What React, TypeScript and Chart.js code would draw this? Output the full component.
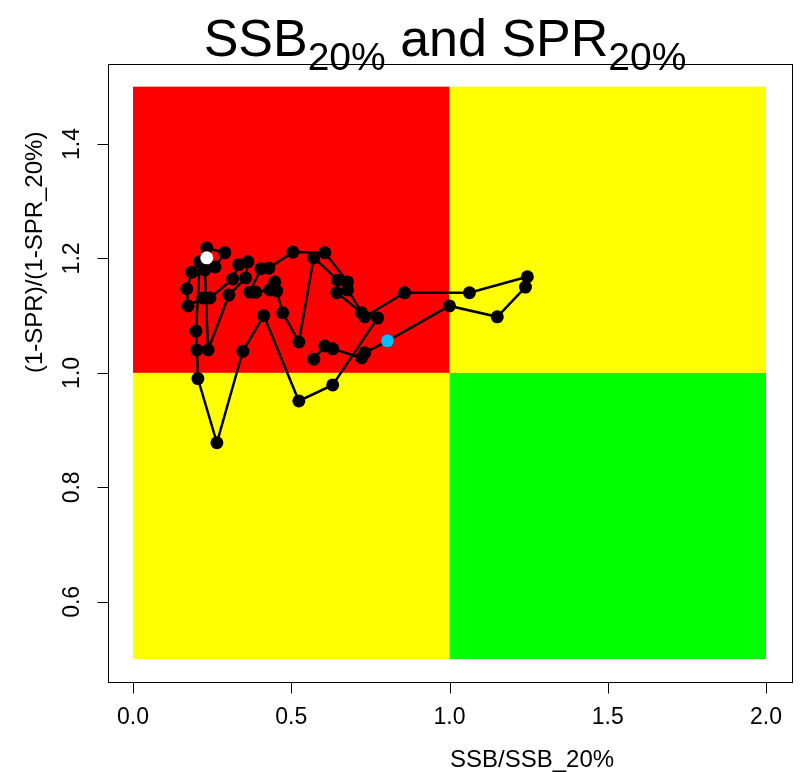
import React, { useEffect, useRef } from "react";
import { Chart, registerables } from "chart.js";

Chart.register(...registerables);

// ---- data ----
const xTicks = [0, 0.5, 1, 1.5, 2];
const xTickLabels = ["0.0", "0.5", "1.0", "1.5", "2.0"];
const yTicks = [0.6, 0.8, 1.0, 1.2, 1.4];
const yTickLabels = ["0.6", "0.8", "1.0", "1.2", "1.4"];

// trajectory: SSB/SSB_20% and (1-SPR)/(1-SPR_20%)
const ssbRatio = [
  0.233, 0.233, 0.29, 0.259, 0.186, 0.17, 0.174, 0.221, 0.243, 0.315, 0.334, 0.363, 0.356, 0.303,
  0.237, 0.227, 0.211, 0.199, 0.202, 0.205, 0.265, 0.347, 0.413, 0.524, 0.631, 0.773, 0.722, 0.644,
  0.647, 0.571, 0.524, 0.473, 0.454, 0.448, 0.432, 0.388, 0.369, 0.404, 0.429, 0.505, 0.606, 0.678,
  0.678, 0.732, 0.858, 1.063, 1.246, 1.24, 1.151, 1.0, 0.804, 0.732, 0.722, 0.631, 0.606, 0.571,
];
const sprRatio = [
  1.201, 1.218, 1.21, 1.185, 1.176, 1.147, 1.117, 1.131, 1.131, 1.164, 1.189, 1.194, 1.166, 1.136,
  1.04, 1.18, 1.194, 1.073, 1.04, 0.99, 0.878, 1.038, 1.1, 0.951, 0.979, 1.096, 1.105, 1.14,
  1.162, 1.201, 1.054, 1.105, 1.143, 1.159, 1.145, 1.141, 1.141, 1.182, 1.183, 1.211, 1.21, 1.159,
  1.145, 1.098, 1.14, 1.14, 1.168, 1.15, 1.098, 1.117, 1.056, 1.035, 1.026, 1.042, 1.047, 1.024,
];
const startIndex = 0; // white point
const markIndex = 50; // light-blue point

// status zones (x range, y range)
const zoneX0 = [0, 1, 0, 1];
const zoneX1 = [1, 2, 1, 2];
const zoneY0 = [1, 1, 0.5, 0.5];
const zoneY1 = [1.5, 1.5, 1, 1];
const zoneColors = ["#FF0000", "#FFFF00", "#FFFF00", "#00FF00"];

const FONT = '"Liberation Sans", Arial, Helvetica, sans-serif';

const decorPlugin = {
  id: "decor",
  beforeDatasetsDraw(chart: any) {
    const { ctx, scales } = chart;
    const x = scales.x;
    const y = scales.y;
    ctx.save();
    for (let i = 0; i < zoneColors.length; i++) {
      const px0 = x.getPixelForValue(zoneX0[i]);
      const px1 = x.getPixelForValue(zoneX1[i]);
      const py0 = y.getPixelForValue(zoneY1[i]);
      const py1 = y.getPixelForValue(zoneY0[i]);
      ctx.fillStyle = zoneColors[i];
      ctx.fillRect(px0, py0, px1 - px0, py1 - py0);
    }
    ctx.restore();
  },
  afterDraw(chart: any) {
    const { ctx, chartArea, scales } = chart;
    const x = scales.x;
    const y = scales.y;
    ctx.save();
    // box
    ctx.strokeStyle = "#000";
    ctx.lineWidth = 1;
    ctx.strokeRect(
      Math.round(chartArea.left) + 0.5,
      Math.round(chartArea.top) + 0.5,
      Math.round(chartArea.right - chartArea.left),
      Math.round(chartArea.bottom - chartArea.top)
    );
    // x ticks
    const bottom = Math.round(chartArea.bottom) + 0.5;
    ctx.beginPath();
    xTicks.forEach((v) => {
      const px = Math.round(x.getPixelForValue(v)) + 0.5;
      ctx.moveTo(px, bottom);
      ctx.lineTo(px, bottom + 11);
    });
    const left = Math.round(chartArea.left) + 0.5;
    yTicks.forEach((v) => {
      const py = Math.round(y.getPixelForValue(v)) + 0.5;
      ctx.moveTo(left, py);
      ctx.lineTo(left - 11, py);
    });
    ctx.stroke();

    ctx.fillStyle = "#000";
    ctx.font = `23px ${FONT}`;
    ctx.textAlign = "center";
    ctx.textBaseline = "middle";
    xTicks.forEach((v, i) => {
      ctx.fillText(xTickLabels[i], x.getPixelForValue(v), 718);
    });
    yTicks.forEach((v, i) => {
      ctx.save();
      ctx.translate(73, y.getPixelForValue(v));
      ctx.rotate(-Math.PI / 2);
      ctx.fillText(yTickLabels[i], 0, 0);
      ctx.restore();
    });

    // axis titles
    ctx.font = `24px ${FONT}`;
    ctx.textAlign = "left";
    ctx.fillText("SSB/SSB_20%", 450, 760);
    ctx.save();
    ctx.translate(35, 373);
    ctx.rotate(-Math.PI / 2);
    ctx.fillText("(1-SPR)/(1-SPR_20%)", 0, 0);
    ctx.restore();

    // title with subscripts
    const big = `52px ${FONT}`;
    const small = `39px ${FONT}`;
    const parts = [
      { t: "SSB", f: big, b: 56 },
      { t: "20%", f: small, b: 70 },
      { t: " and SPR", f: big, b: 56 },
      { t: "20%", f: small, b: 70 },
    ];
    ctx.textBaseline = "alphabetic";
    let total = 0;
    parts.forEach((p) => {
      ctx.font = p.f;
      total += ctx.measureText(p.t).width;
    });
    let cx = 445 - total / 2;
    parts.forEach((p) => {
      ctx.font = p.f;
      ctx.fillText(p.t, cx, p.b);
      cx += ctx.measureText(p.t).width;
    });
    ctx.restore();
  },
};

export default function App() {
  const ref = useRef<HTMLCanvasElement>(null);
  useEffect(() => {
    document.body.style.margin = "0";
    const canvas = ref.current!;
    const pts = ssbRatio.map((v, i) => ({ x: v, y: sprRatio[i] }));
    const chart = new Chart(canvas, {
      type: "scatter",
      data: {
        datasets: [
          {
            data: [pts[markIndex]],
            pointRadius: 6.5,
            pointBackgroundColor: "#00BFFF",
            pointBorderWidth: 0,
            order: 0,
          },
          {
            data: [pts[startIndex]],
            pointRadius: 6.5,
            pointBackgroundColor: "#FFFFFF",
            pointBorderWidth: 0,
            order: 0,
          },
          {
            data: pts,
            showLine: true,
            borderColor: "#000",
            borderWidth: 2.5,
            pointRadius: 6.5,
            pointBackgroundColor: "#000",
            pointBorderWidth: 0,
            order: 1,
          },
        ],
      },
      options: {
        animation: false,
        responsive: false,
        maintainAspectRatio: false,
        layout: { padding: { left: 107.7, right: 17.7, top: 63.8, bottom: 90 } },
        plugins: { legend: { display: false }, tooltip: { enabled: false }, title: { display: false } },
        scales: {
          x: { type: "linear", min: -0.08, max: 2.08, display: false },
          y: { type: "linear", min: 0.46, max: 1.54, display: false },
        },
      },
      plugins: [decorPlugin],
    });
    return () => chart.destroy();
  }, []);
  return (
    <div style={{ position: "absolute", left: 0, top: 0, width: 809, height: 772, background: "#fff" }}>
      <canvas ref={ref} width={809} height={772} style={{ width: 809, height: 772, display: "block" }} />
    </div>
  );
}
